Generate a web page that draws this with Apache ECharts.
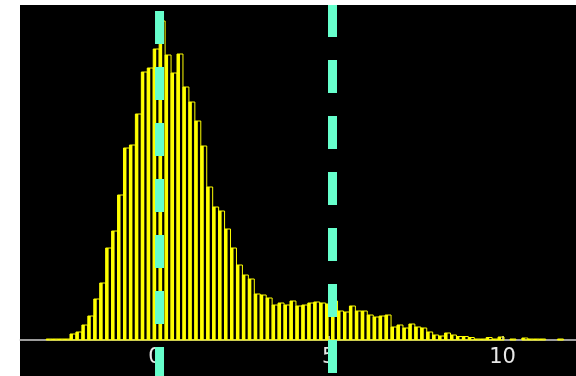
<!DOCTYPE html>
<html>
<head>
<meta charset="utf-8">
<script src="https://cdn.jsdelivr.net/npm/echarts@6/dist/echarts.min.js"></script>
<style>
html,body{margin:0;padding:0;background:#fff;}
#c{width:576px;height:376px;}
</style>
</head>
<body>
<div id="c"></div>
<script>
// Histogram bins
const binStart = -3.131;
const binWidth = 0.1711;
const counts = [1,1,1,1,6,8,15,24,41,57,92,109,145,192,195,226,268,272,291,319,
  285,267,286,253,238,219,194,153,133,129,111,92,75,65,61,46,45,42,35,37,
  35,39,34,35,37,38,37,36,39,29,28,34,29,29,25,23,24,25,13,15,
  12,16,13,12,8,5,4,7,5,3.5,3.5,2.5,1,1,2.5,1,3,0,1,0,
  2,1,1,1,0,0,1];
// Vertical reference lines
const refLines = [0.13, 5.108];
const refDashOffsets = [4, 53];
// Tick labels
const tickValues = [0, 5, 10];
const xRange = [-3.885, 12.115];
const yRange = [0, 335];
const refLineSpan = [-36, 335];

const data = counts.map((c, i) => [binStart + i * binWidth, binStart + (i + 1) * binWidth, c]);

const lineSeries = refLines.map((v, i) => ({
  type: 'line', clip: false, silent: true, symbol: 'none', z: 5,
  data: [[v, refLineSpan[0]], [v, refLineSpan[1]]],
  lineStyle: {color: '#66ffcc', width: 9, type: [33, 23], dashOffset: refDashOffsets[i], cap: 'butt'}
}));

const chart = echarts.init(document.getElementById('c'), null, {renderer: 'canvas'});
chart.setOption({
  animation: false,
  backgroundColor: '#ffffff',
  graphic: {elements: [{type: 'rect', left: 20, top: 5, z: -100, silent: true,
    shape: {width: 556, height: 371}, style: {fill: '#000000'}}]},
  grid: {left: 20, right: 0, top: 5, bottom: 36, outerBoundsMode: 'none', containLabel: false, show: false},
  xAxis: {
    type: 'value', min: xRange[0], max: xRange[1],
    axisLine: {onZero: false, lineStyle: {color: '#d0d0d0', width: 1.5}},
    axisTick: {show: true, inside: true, length: 4, customValues: tickValues, lineStyle: {color: '#e0e0e0', width: 1.5}},
    axisLabel: {customValues: tickValues, color: '#e8e8e8', fontSize: 21, fontFamily: 'DejaVu Sans', margin: 7},
    splitLine: {show: false}
  },
  yAxis: {type: 'value', min: yRange[0], max: yRange[1], show: false, splitLine: {show: false}},
  series: [{
    type: 'custom',
    encode: {x: [0, 1], y: 2},
    data: data,
    renderItem: function (params, api) {
      const h = api.value(2);
      if (!h) return {type: 'group', children: []};
      const p0 = api.coord([api.value(0), h]);
      const p1 = api.coord([api.value(1), 0]);
      const w = p1[0] - p0[0], hh = p1[1] - p0[1];
      return {type: 'group', children: [
        {type: 'rect', shape: {x: p0[0], y: p0[1], width: w / 2, height: hh}, style: {fill: '#ffff00'}},
        {type: 'rect', shape: {x: p0[0], y: p0[1], width: w, height: hh}, style: {fill: 'none', stroke: '#ffff00', lineWidth: 1}}
      ]};
    }
  }].concat(lineSeries)
});
</script>
</body>
</html>
